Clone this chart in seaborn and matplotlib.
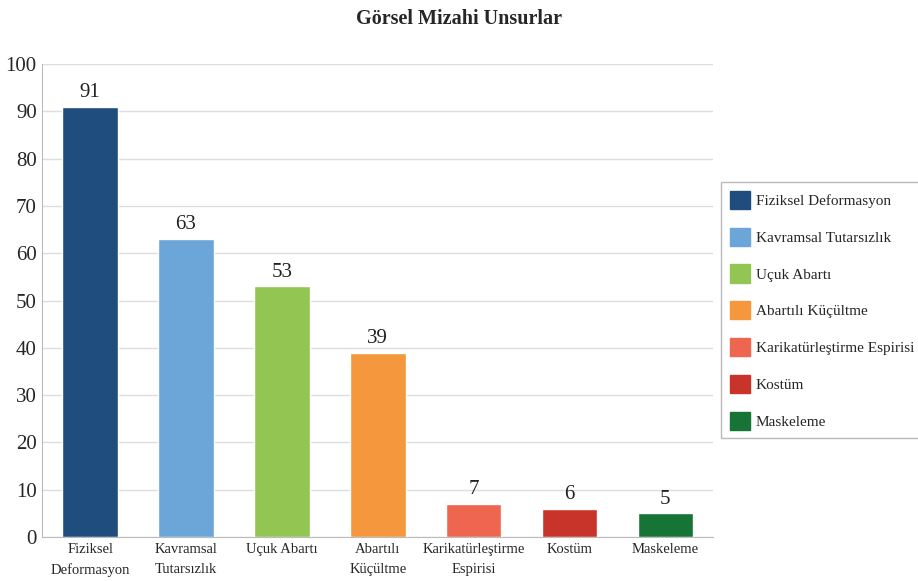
import pandas as pd
import seaborn as sns
import matplotlib.pyplot as plt

# Data
categories = ["Fiziksel Deformasyon", "Kavramsal Tutarsızlık", "Uçuk Abartı",
              "Abartılı Küçültme", "Karikatürleştirme Espirisi", "Kostüm", "Maskeleme"]
tick_labels = ["Fiziksel\nDeformasyon", "Kavramsal\nTutarsızlık", "Uçuk Abartı",
               "Abartılı\nKüçültme", "Karikatürleştirme\nEspirisi", "Kostüm", "Maskeleme"]
values = [91, 63, 53, 39, 7, 6, 5]
colors = ["#1F4E7E", "#6CA5D8", "#92C552", "#F4973D", "#EE6650", "#C8342A", "#167436"]

df = pd.DataFrame({"kategori": categories, "deger": values})

sns.set_style("white")
plt.rcParams["font.family"] = ["Liberation Serif", "DejaVu Serif"]

fig = plt.figure(figsize=(9.18, 5.81), dpi=100)
ax = fig.add_axes([0.046, 0.0757, 0.731, 0.814])

sns.barplot(data=df, x="kategori", y="deger", hue="kategori", palette=colors,
            order=categories, hue_order=categories, dodge=False, width=0.58,
            saturation=1, ax=ax, legend=False)

for i, v in enumerate(values):
    ax.text(i, v + 1, str(v), ha="center", va="bottom", fontsize=15, color="#222222")

ax.set_ylim(0, 100)
ax.set_xlim(-0.5, 6.5)
ax.set_yticks(range(0, 101, 10))
ax.tick_params(axis="y", labelsize=15, length=0, pad=4)
ax.set_xticks(range(len(categories)))
ax.set_xticklabels(tick_labels, fontsize=10.5, linespacing=1.75)
ax.tick_params(axis="x", length=0, pad=4)
ax.grid(axis="y", color="#dddddd", linewidth=1)
ax.set_axisbelow(True)
ax.set_xlabel("")
ax.set_ylabel("")
for s in ["top", "right"]:
    ax.spines[s].set_visible(False)
for s in ["left", "bottom"]:
    ax.spines[s].set_color("#bbbbbb")

fig.suptitle("Görsel Mizahi Unsurlar", x=0.5, y=0.985, fontsize=14.5, fontweight="bold")

handles = [plt.Rectangle((0, 0), 1, 1, color=c) for c in colors]
leg = fig.legend(handles, categories, loc="center left", bbox_to_anchor=(0.784, 0.466),
                 fontsize=11, frameon=True, fancybox=False, edgecolor="#aaaaaa",
                 handlelength=1.3, handleheight=1.45, handletextpad=0.4,
                 labelspacing=1.22, borderpad=0.55, borderaxespad=0.1)

fig.savefig("out.png", dpi=100)
